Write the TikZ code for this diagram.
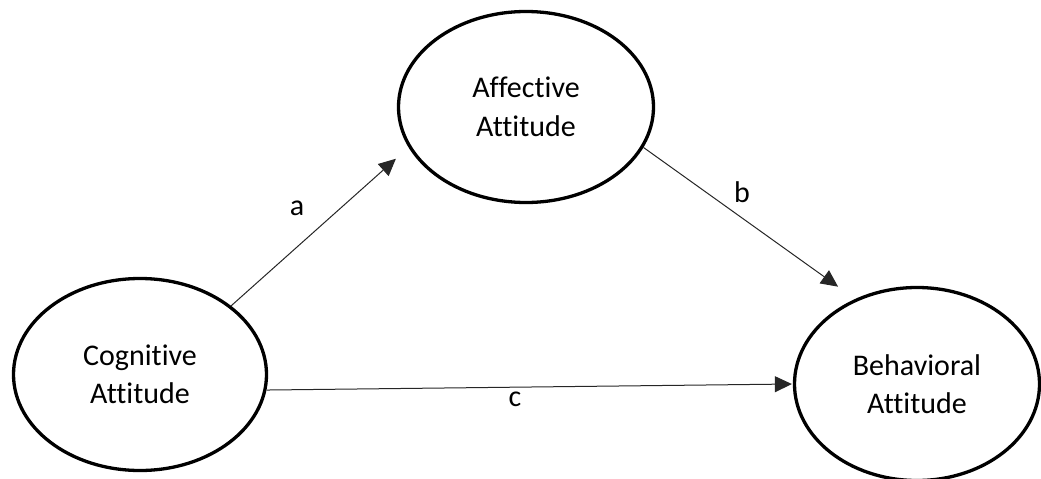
\documentclass[tikz,border=0pt]{standalone}
\usepackage{fontspec}
\setmainfont{Carlito}[Ligatures={NoCommon,NoRare}]
\usetikzlibrary{shapes.geometric,arrows.meta}
\begin{document}
\begin{tikzpicture}[x=1pt,y=-1pt,
  latent/.style={ellipse,draw=black,line width=3.3pt,inner sep=0pt,align=center,
    font=\fontsize{30}{38.5}\selectfont},
  path/.style={draw=black!85,line width=1pt,-{Triangle[length=17pt,width=16pt]}},
  lbl/.style={anchor=base,inner sep=0pt,font=\fontsize{30}{36}\selectfont}]
\useasboundingbox (0,0) rectangle (1041,479);
\node[latent,minimum width=255pt,minimum height=191pt] (aff) at (526,107) {Affective\\Attitude};
\node[latent,minimum width=253pt,minimum height=192pt] (cog) at (140,374.5) {Cognitive\\Attitude};
\node[latent,minimum width=245pt,minimum height=193pt] (beh) at (917,384) {Behavioral\\Attitude};
\draw[path,shorten >=17pt] (cog.37) -- (aff.199);
\draw[path,shorten >=21pt] (aff.341) -- (beh.126.5);
\draw[path,shorten >=1pt] (cog.-7.6) -- (beh.180);
\node[lbl] (la) at (297,215) {a};
\node[lbl] (lb) at (742,202) {b};
\node[lbl] (lc) at (515,406) {c};
\end{tikzpicture}
\end{document}
